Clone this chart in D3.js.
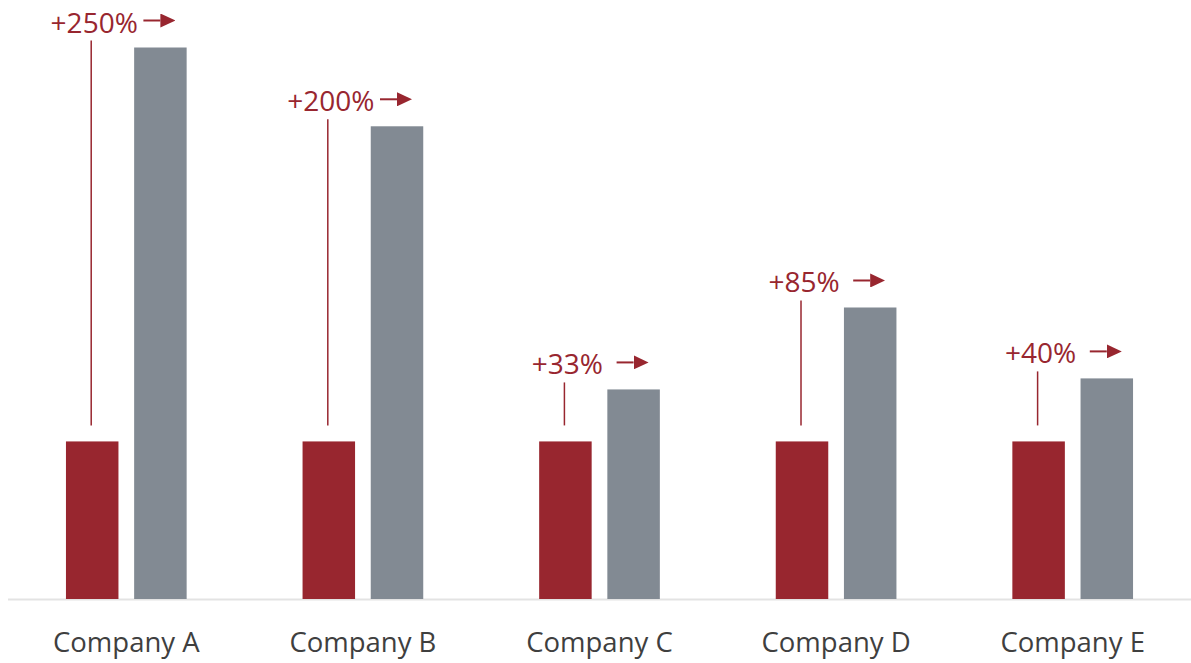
<!DOCTYPE html>
<html>
<head>
<meta charset="utf-8">
<script src="https://cdn.jsdelivr.net/npm/d3@7"></script>
<style>
  body { margin: 0; background: #fff; }
  svg { display: block; font-family: "Open Sans", sans-serif; }
</style>
</head>
<body>
<svg id="chart" width="1191" height="663"></svg>
<script>
  // data
  const companies = ['Company A', 'Company B', 'Company C', 'Company D', 'Company E'];
  const baseValues = [100, 100, 100, 100, 100];
  const newValues = [350, 300, 133, 185, 140];
  const changeLabels = ['+250%', '+200%', '+33%', '+85%', '+40%'];

  const RED = '#98262f';
  const GRAY = '#828a93';

  const w = 1191, h = 663;
  const svg = d3.select('#chart');

  const rows = companies.map(function(c, i) {
    return { name: c, base: baseValues[i], next: newValues[i], label: changeLabels[i] };
  });

  const x = d3.scaleBand().domain(companies).range([8, w]);
  const inner = d3.scaleBand().domain(['base', 'next'])
    .range([0, x.bandwidth()])
    .paddingInner(0.23)
    .paddingOuter(0.85);
  const y = d3.scaleLinear().domain([0, 350]).range([599, 47.5]);

  svg.append('defs').append('marker')
    .attr('id', 'arrowhead')
    .attr('viewBox', '0 0 15 14')
    .attr('refX', 0).attr('refY', 7)
    .attr('markerWidth', 15).attr('markerHeight', 14)
    .attr('markerUnits', 'userSpaceOnUse')
    .attr('orient', 'auto')
    .append('path')
    .attr('d', 'M0,0 L15,7 L0,14 Z')
    .attr('fill', RED);

  // baseline
  svg.append('line')
    .attr('x1', 8).attr('x2', w)
    .attr('y1', 599.5).attr('y2', 599.5)
    .attr('stroke', '#e3e3e3')
    .attr('stroke-width', 2);

  const g = svg.selectAll('g.group')
    .data(rows)
    .enter().append('g')
    .attr('class', 'group')
    .attr('transform', function(d) { return `translate(${x(d.name)},0)`; });

  g.append('rect')
    .attr('x', inner('base'))
    .attr('width', inner.bandwidth())
    .attr('y', function(d) { return y(d.base); })
    .attr('height', function(d) { return y(0) - y(d.base); })
    .attr('fill', RED);

  g.append('rect')
    .attr('x', inner('next'))
    .attr('width', inner.bandwidth())
    .attr('y', function(d) { return y(d.next); })
    .attr('height', function(d) { return y(0) - y(d.next); })
    .attr('fill', GRAY);

  const redMid = inner('base') + inner.bandwidth() / 2;
  const grayMid = inner('next') + inner.bandwidth() / 2;

  // vertical connector from label down toward the base bar
  g.append('line')
    .attr('x1', redMid - 1).attr('x2', redMid - 1)
    .attr('y1', function(d) { return y(d.next) - 7; })
    .attr('y2', function(d) { return y(d.base) - 16; })
    .attr('stroke', RED)
    .attr('stroke-width', 1.5);

  g.append('text')
    .attr('x', redMid + 2)
    .attr('y', function(d) { return y(d.next) - 15; })
    .attr('text-anchor', 'middle')
    .attr('font-size', 28)
    .attr('fill', RED)
    .text(function(d) { return d.label; });

  g.append('line')
    .attr('x1', grayMid - 17).attr('x2', grayMid)
    .attr('y1', function(d) { return y(d.next) - 27; })
    .attr('y2', function(d) { return y(d.next) - 27; })
    .attr('stroke', RED)
    .attr('stroke-width', 2)
    .attr('marker-end', 'url(#arrowhead)');

  // category labels
  svg.append('g')
    .selectAll('text')
    .data(companies)
    .enter().append('text')
    .attr('x', function(d) { return x(d) + x.bandwidth() / 2; })
    .attr('y', 652)
    .attr('text-anchor', 'middle')
    .attr('font-size', 27.5)
    .attr('fill', '#3f3f3f')
    .text(function(d) { return d; });
</script>
</body>
</html>
